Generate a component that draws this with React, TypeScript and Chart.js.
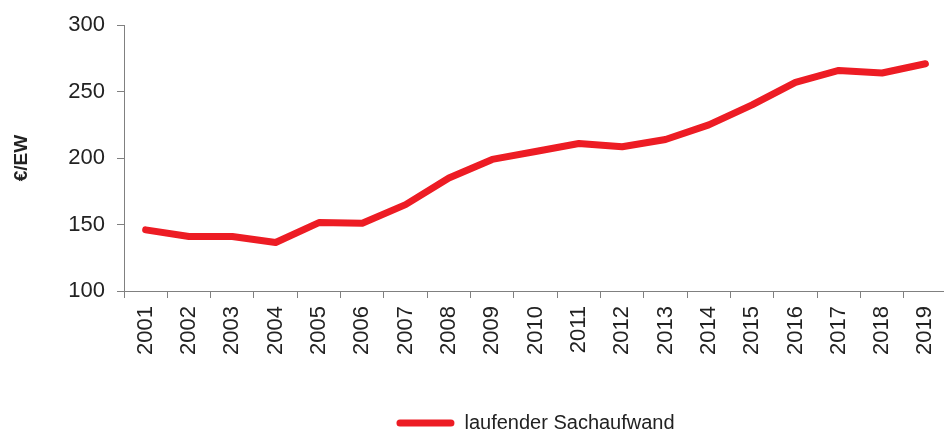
import React, { useEffect, useRef } from "react";
import { Chart, registerables } from "chart.js";

Chart.register(...registerables);

const categories = ["2001","2002","2003","2004","2005","2006","2007","2008","2009","2010","2011","2012","2013","2014","2015","2016","2017","2018","2019"];
const sachaufwand = [146, 141, 141, 136.5, 151.5, 151, 165, 185, 199, 205, 211, 208.5, 214, 225, 240, 257, 266, 264, 271];
const yTicks = [100, 150, 200, 250, 300];
const seriesLabel = "laufender Sachaufwand";
const yTitle = "€/EW";

const FONT = "'Liberation Sans', Arial, sans-serif";

export default function App() {
  const ref = useRef<HTMLCanvasElement | null>(null);
  useEffect(() => {
    if (!ref.current) return;
    const chart = new Chart(ref.current, {
      type: "line",
      data: {
        labels: categories,
        datasets: [
          {
            label: seriesLabel,
            data: sachaufwand,
            borderColor: "#ED1C24",
            backgroundColor: "#ED1C24",
            borderWidth: 7,
            borderCapStyle: "round",
            borderJoinStyle: "round",
            pointRadius: 0,
            tension: 0,
          },
        ],
      },
      options: {
        animation: false,
        responsive: true,
        maintainAspectRatio: false,
        layout: { padding: { top: 24, right: 7, left: 0, bottom: -9 } },
        plugins: {
          tooltip: { enabled: false },
          legend: {
            position: "bottom",
            fullSize: false,
            labels: {
              padding: 1,
              boxWidth: 58,
              boxHeight: 7,
              useBorderRadius: true,
              borderRadius: 3.5,
              color: "#222",
              font: { family: FONT, size: 20 },
              generateLabels: (c: any) =>
                c.data.datasets.map((d: any, i: number) => ({
                  text: d.label,
                  fillStyle: "#ED1C24",
                  strokeStyle: "#ED1C24",
                  lineWidth: 0,
                  fontColor: "#222",
                  datasetIndex: i,
                  borderRadius: 3.5,
                })),
            },
          },
        },
        scales: {
          x: {
            type: "category",
            offset: true,
            grid: {
              display: true,
              drawOnChartArea: false,
              drawTicks: true,
              tickLength: 7,
              offset: true,
              color: "#808080",
              lineWidth: 1,
            },
            border: { display: true, color: "#808080", width: 1 },
            ticks: {
              minRotation: 90,
              maxRotation: 90,
              autoSkip: false,
              padding: 8,
              color: "#222",
              font: { family: FONT, size: 22 },
            },
            afterFit: (s: any) => {
              s.height = 121;
            },
          },
          y: {
            min: 100,
            max: 300,
            afterBuildTicks: (s: any) => {
              s.ticks = yTicks.map((v) => ({ value: v }));
            },
            grid: {
              display: true,
              drawOnChartArea: false,
              drawTicks: true,
              tickLength: 7,
              color: "#808080",
              lineWidth: 1,
            },
            border: { display: true, color: "#808080", width: 1 },
            ticks: {
              padding: 12,
              color: "#222",
              font: { family: FONT, size: 22 },
            },
            title: {
              display: true,
              text: yTitle,
              color: "#222",
              padding: { top: 10, bottom: 0 },
              font: { family: FONT, size: 19, weight: "bold" },
            },
            afterFit: (s: any) => {
              s.width = 124;
            },
          },
        },
      },
    });
    return () => chart.destroy();
  }, []);
  return (
    <div style={{ position: "fixed", left: 0, top: 0, width: 944, height: 434, overflow: "hidden", background: "#fff" }}>
      <div style={{ position: "relative", width: 960, height: 434 }}>
        <canvas ref={ref} />
      </div>
    </div>
  );
}
